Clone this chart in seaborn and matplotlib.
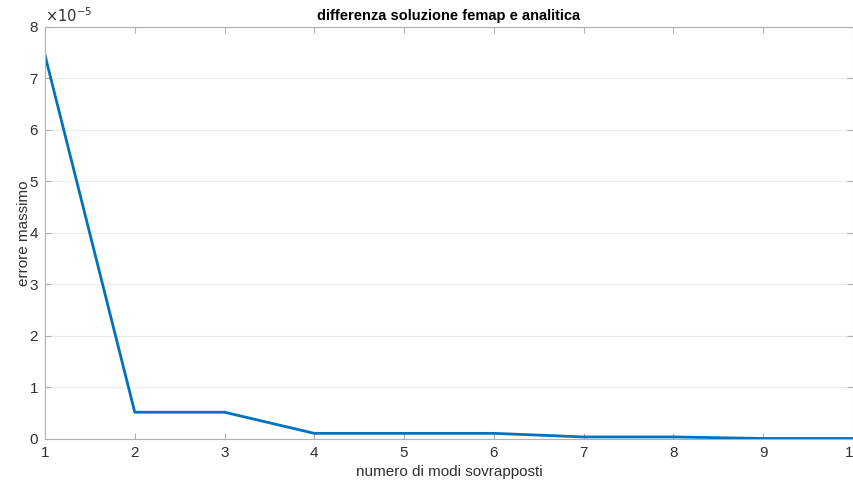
import matplotlib
matplotlib.use("Agg")
import matplotlib.pyplot as plt
import seaborn as sns
import pandas as pd

modes = [1, 2, 3, 4, 5, 6, 7, 8, 9, 10]
err = [7.45e-5, 0.52e-5, 0.52e-5, 0.11e-5, 0.11e-5, 0.11e-5, 0.04e-5, 0.04e-5, 0.01e-5, 0.01e-5]

sns.set_theme(style="white")
plt.rcParams['font.family'] = ['Liberation Sans', 'DejaVu Sans']

df = pd.DataFrame({"modi": modes, "errore": err})

fig = plt.figure(figsize=(8.54, 4.83), dpi=100)
ax = fig.add_axes([0.0527, 0.0911, 0.946, 0.853])
sns.lineplot(data=df, x="modi", y="errore", ax=ax, color="#0072BD", linewidth=2)

ax.set_xlim(1, 10)
ax.set_ylim(0, 8e-5)
ax.set_xticks(modes)
ax.set_xticklabels([str(m) for m in modes])
yt = [i * 1e-5 for i in range(9)]
ax.set_yticks(yt)
ax.set_yticklabels([str(i) for i in range(9)])
ax.text(0, 1.005, r"$\times10^{-5}$", transform=ax.transAxes, fontsize=10.5, color="#303030", va="bottom", ha="left")

ax.yaxis.grid(True, color="#ebebeb", linewidth=0.8)
ax.xaxis.grid(False)
ax.set_axisbelow(True)
for s in ax.spines.values():
    s.set_visible(True)
    s.set_color("#b0b0b0")
    s.set_linewidth(0.8)
ax.tick_params(direction="in", length=4, width=0.8, color="#b0b0b0", labelcolor="#303030",
               labelsize=11, top=True, right=True, bottom=True, left=True, pad=5)

ax.set_xlabel("numero di modi sovrapposti", fontsize=11, color="#303030", labelpad=4)
ax.set_ylabel("errore massimo", fontsize=11, color="#303030", labelpad=-1)
ax.set_title("differenza soluzione femap e analitica", fontsize=10.5, fontweight="bold", color="black", pad=5)

fig.savefig("out.png", dpi=100)
